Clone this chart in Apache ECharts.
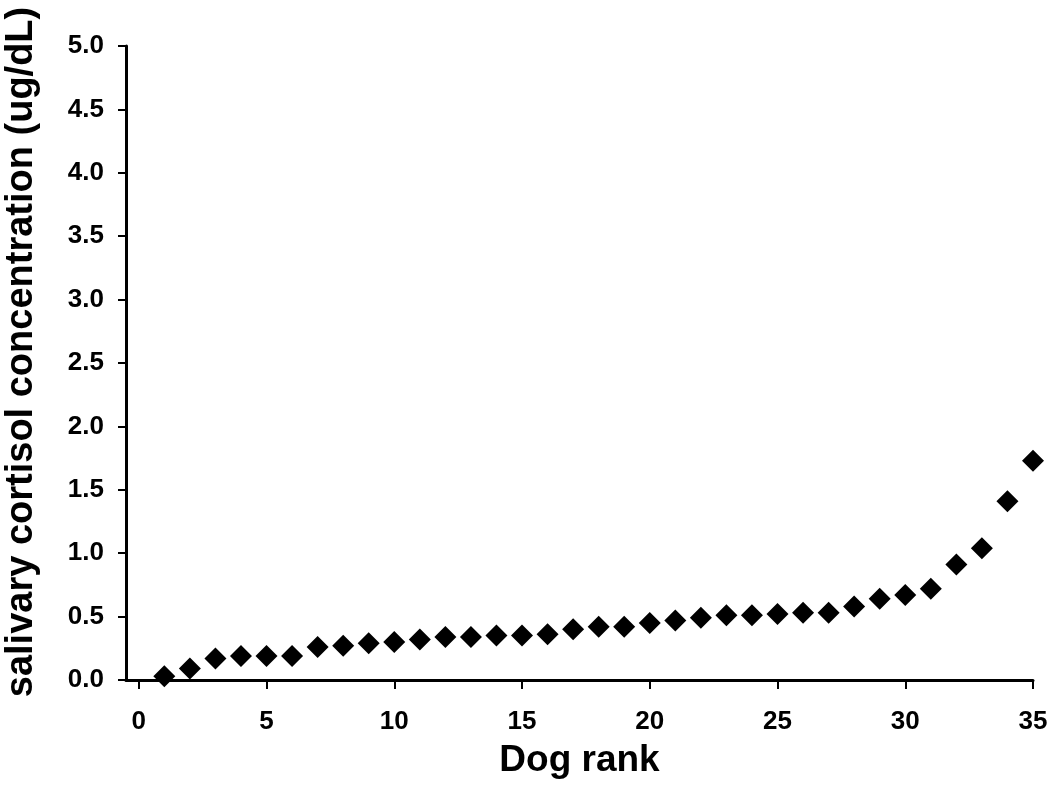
<!DOCTYPE html>
<html>
<head>
<meta charset="utf-8">
<script src="https://cdn.jsdelivr.net/npm/echarts@6/dist/echarts.min.js"></script>
<style>
  html, body { margin: 0; padding: 0; background: #fff; }
  #chart { width: 1050px; height: 789px; }
</style>
</head>
<body>
<div id="chart"></div>
<script>
// dog rank (x) and salivary cortisol (y)
const ranks = [1, 2, 3, 4, 5, 6, 7, 8, 9, 10, 11, 12, 13, 14, 15, 16, 17, 18,
  19, 20, 21, 22, 23, 24, 25, 26, 27, 28, 29, 30, 31, 32, 33, 34, 35]
const cortisol = [0.03, 0.09, 0.17, 0.19, 0.19, 0.19, 0.26, 0.27, 0.29, 0.30,
  0.32, 0.34, 0.34, 0.35, 0.35, 0.36, 0.40, 0.42, 0.42, 0.45, 0.47, 0.49, 0.51,
  0.51, 0.52, 0.53, 0.53, 0.58, 0.64, 0.67, 0.72, 0.91, 1.04, 1.41, 1.73]
const xTicks = [0, 5, 10, 15, 20, 25, 30, 35]

const font = 'Liberation Sans, Arial, sans-serif'
const chart = echarts.init(document.getElementById('chart'))

chart.setOption({
  animation: false,
  grid: { left: 126, right: 17, top: 46, bottom: 109, outerBoundsMode: 'none', containLabel: false },
  xAxis: {
    type: 'value',
    min: -0.5,
    max: 35,
    name: 'Dog rank',
    nameLocation: 'middle',
    nameGap: 62,
    nameTextStyle: { fontFamily: font, fontWeight: 'bold', fontSize: 37, color: '#000' },
    splitLine: { show: false },
    axisLine: { onZero: false, lineStyle: { color: '#000', width: 3 } },
    axisTick: { customValues: xTicks, length: 9, lineStyle: { color: '#000', width: 2 } },
    axisLabel: {
      customValues: xTicks,
      margin: 29,
      fontFamily: font, fontWeight: 'bold', fontSize: 26, color: '#000'
    }
  },
  yAxis: {
    type: 'value',
    min: 0,
    max: 5,
    interval: 0.5,
    name: 'salivary cortisol concentration (ug/dL)',
    nameLocation: 'middle',
    nameGap: 85,
    nameTextStyle: {
      fontFamily: font, fontWeight: 'bold', fontSize: 38, color: '#000',
      padding: [0, 0, 0, 22]
    },
    splitLine: { show: false },
    axisLine: { show: true, onZero: false, lineStyle: { color: '#000', width: 3 } },
    axisTick: { show: true, length: 8, lineStyle: { color: '#000', width: 2 } },
    axisLabel: {
      margin: 22,
      formatter: v => v.toFixed(1),
      fontFamily: font, fontWeight: 'bold', fontSize: 26, color: '#000'
    }
  },
  series: [{
    type: 'scatter',
    symbol: 'diamond',
    symbolSize: [22, 22],
    itemStyle: { color: '#000', opacity: 1 },
    data: ranks.map((r, i) => [r, cortisol[i]])
  }]
})
</script>
</body>
</html>
